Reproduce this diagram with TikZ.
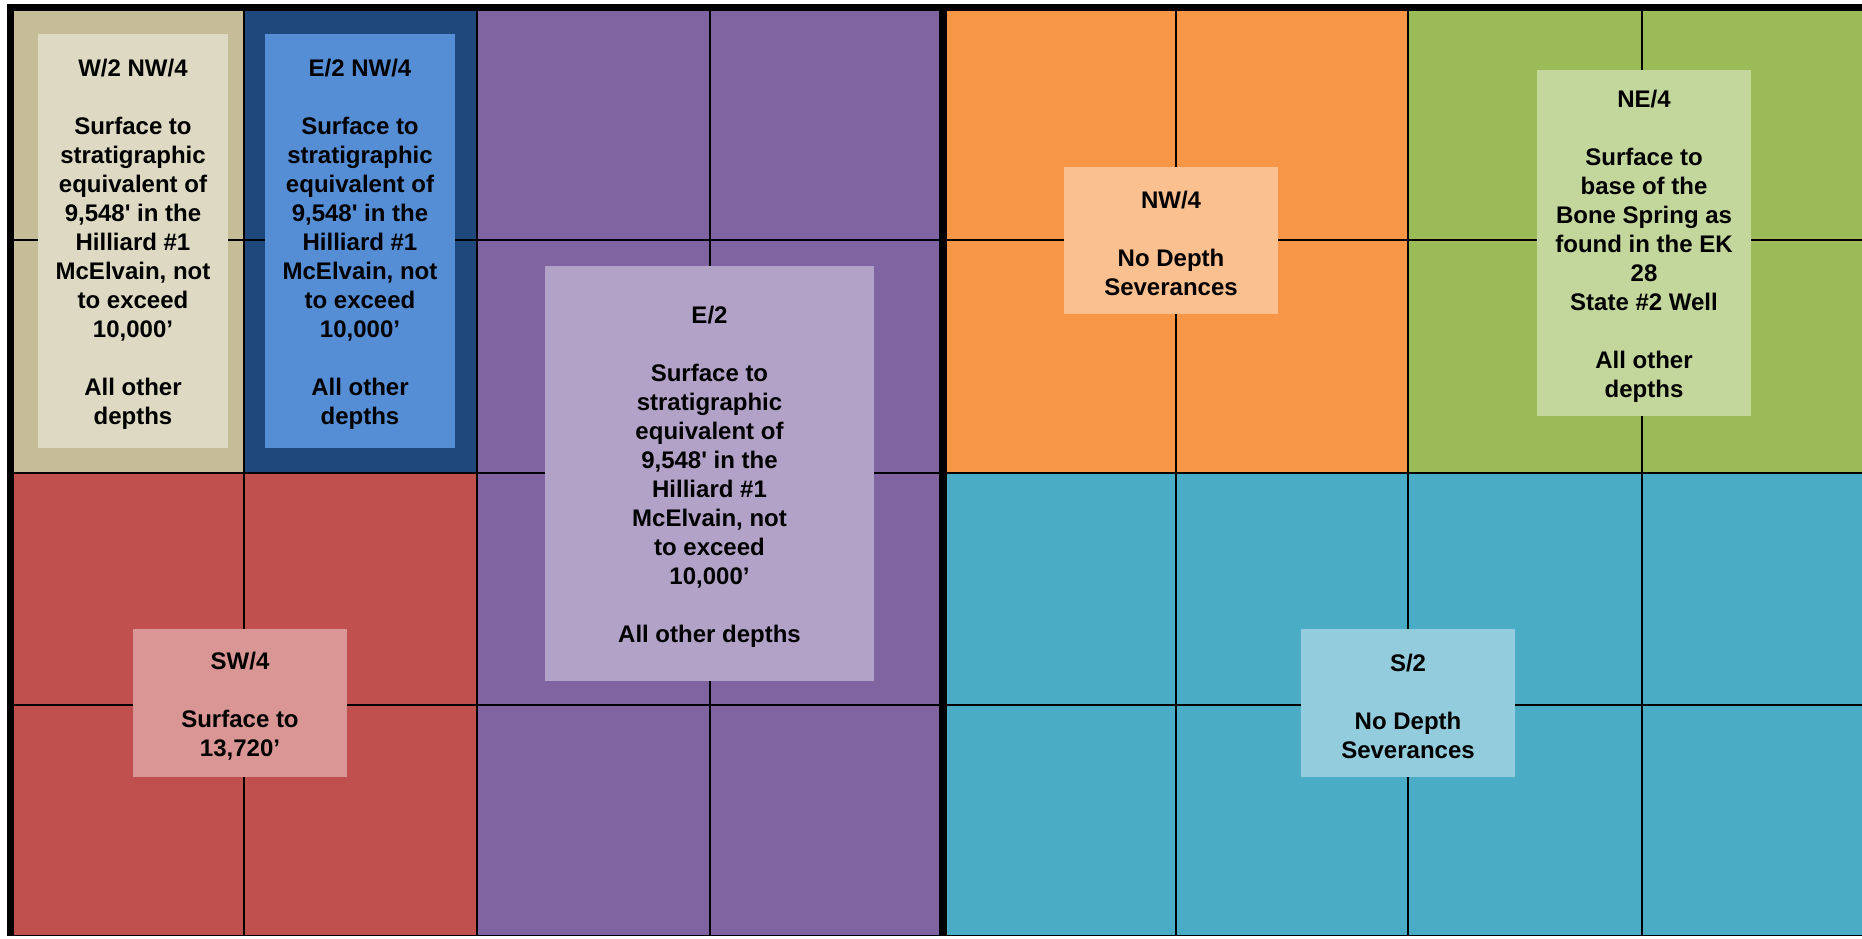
\documentclass[tikz,border=0pt]{standalone}
\usepackage{fontspec}
\setmainfont{Liberation Sans}
\definecolor{tanD}{HTML}{C4BD97}
\definecolor{tanL}{HTML}{DDD9C3}
\definecolor{blueD}{HTML}{1F497D}
\definecolor{blueL}{HTML}{558ED5}
\definecolor{purD}{HTML}{8064A2}
\definecolor{purL}{HTML}{B3A2C7}
\definecolor{oraD}{HTML}{F79646}
\definecolor{oraL}{HTML}{FAC090}
\definecolor{grnD}{HTML}{9BBB59}
\definecolor{grnL}{HTML}{C3D69B}
\definecolor{redD}{HTML}{C0504D}
\definecolor{redL}{HTML}{D99694}
\definecolor{tealD}{HTML}{4BACC6}
\definecolor{tealL}{HTML}{93CDDD}
\newcommand{\sq}{\textquotesingle}
\begin{document}
\begin{tikzpicture}[x=1pt,y=-1pt,
  gridline/.style={draw=black,line width=1.8pt},
  tract/.style={rectangle,inner sep=0pt},
  tracttext/.style={inner sep=0pt,align=center,yshift=-3pt,
     font=\bfseries\fontsize{24}{29}\selectfont,text=black},
]
\useasboundingbox (0,0) rectangle (1862,938);
\clip (0,0) rectangle (1862,938);
\fill[white] (0,0) rectangle (1862,938);
% cell fills
\fill[tanD]  (10.5,7.5) rectangle (244,472.7);
\fill[blueD] (244,7.5) rectangle (477,472.7);
\fill[purD]  (477,7.5) rectangle (943,935.5);
\fill[redD]  (10.5,472.7) rectangle (477,935.5);
\fill[oraD]  (943,7.5) rectangle (1408,472.7);
\fill[grnD]  (1408,7.5) rectangle (1875,472.7);
\fill[tealD] (943,472.7) rectangle (1875,935.5);
% grid lines
\foreach \x in {244,477,710,1176,1408,1642}
  \draw[gridline] (\x,7.5) -- (\x,935.5);
\foreach \y in {240,472.7,705}
  \draw[gridline] (10.5,\y) -- (1875,\y);
\draw[gridline] (10.5,935.5) -- (1875,935.5);
% thick lines
\draw[line width=7pt] (10.5,936) -- (10.5,7.5) -- (1875,7.5);
\draw[line width=8pt] (943,7.5) -- (943,936);
% tract boxes
\node[tract,fill=tanL,minimum width=190pt,minimum height=414pt,
  label={[tracttext]center:{W/2 NW/4\\[29pt]Surface to\\stratigraphic\\equivalent of\\9,548\sq{} in the\\Hilliard \#1\\McElvain, not\\to exceed\\10,000’\\[29pt]All other\\depths}}] (w2nw4) at (133,241) {};
\node[tract,fill=blueL,minimum width=190pt,minimum height=414pt,
  label={[tracttext]center:{E/2 NW/4\\[29pt]Surface to\\stratigraphic\\equivalent of\\9,548\sq{} in the\\Hilliard \#1\\McElvain, not\\to exceed\\10,000’\\[29pt]All other\\depths}}] (e2nw4) at (360,241) {};
\node[tract,fill=purL,minimum width=329pt,minimum height=415pt,
  label={[tracttext]center:{E/2\\[29pt]Surface to\\stratigraphic\\equivalent of\\9,548\sq{} in the\\Hilliard \#1\\McElvain, not\\to exceed\\10,000’\\[29pt]All other depths}}] (e2) at (709.5,473.5) {};
\node[tract,fill=oraL,minimum width=214pt,minimum height=147pt,
  label={[tracttext]center:{NW/4\\[29pt]No Depth\\Severances}}] (nw4) at (1171,240.5) {};
\node[tract,fill=grnL,minimum width=214pt,minimum height=346pt,
  label={[tracttext]center:{NE/4\\[29pt]Surface to\\base of the\\Bone Spring as\\found in the EK\\28\\State \#2 Well\\[29pt]All other\\depths}}] (ne4) at (1644,243) {};
\node[tract,fill=redL,minimum width=214pt,minimum height=148pt,
  label={[tracttext]center:{SW/4\\[29pt]Surface to\\13,720’}}] (sw4) at (240,703) {};
\node[tract,fill=tealL,minimum width=214pt,minimum height=148pt,
  label={[tracttext]center:{S/2\\[29pt]No Depth\\Severances}}] (s2) at (1408,703) {};
\end{tikzpicture}
\end{document}
